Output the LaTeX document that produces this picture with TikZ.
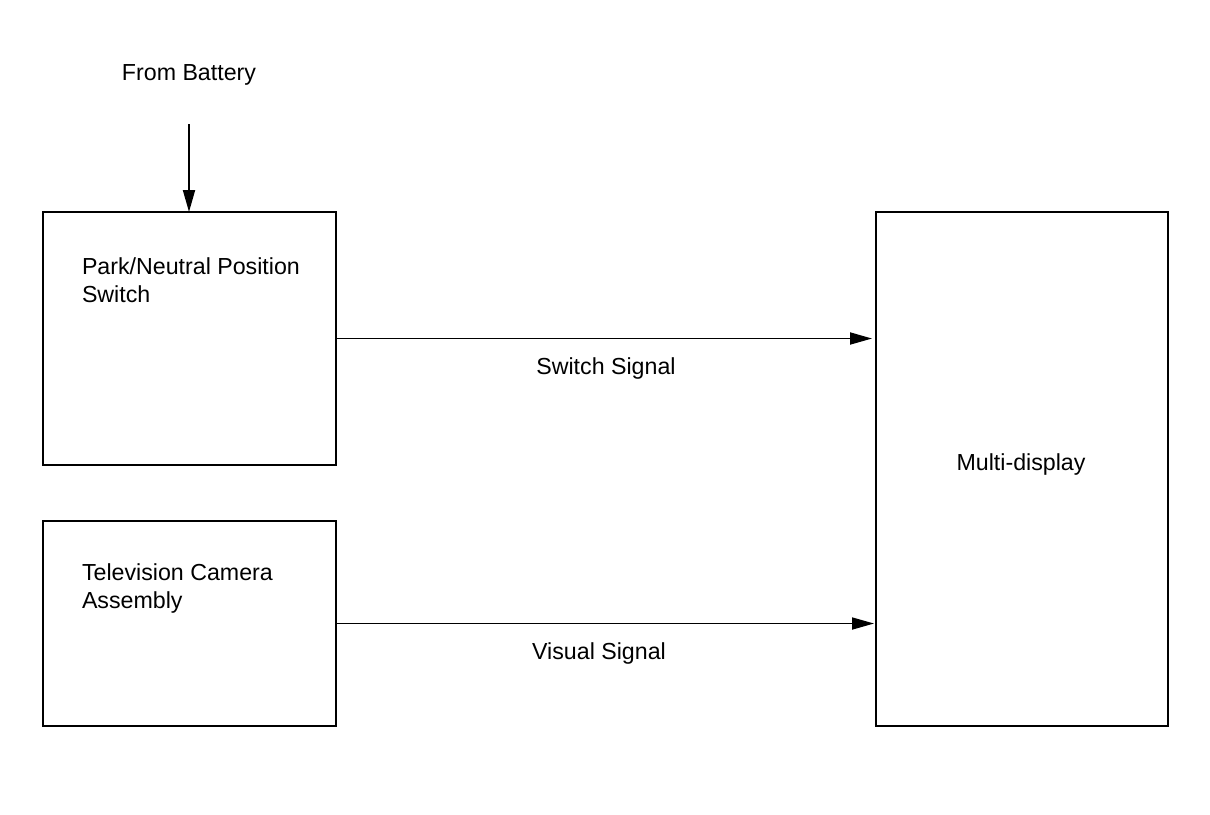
\documentclass[tikz,border=0pt]{standalone}
\usepackage{fontspec}
\setmainfont{Liberation Sans}
\usetikzlibrary{arrows.meta}

\begin{document}
\begin{tikzpicture}[
  x=0.5pt, y=-0.5pt,
  every node/.style={
    font=\fontsize{11.6}{14}\selectfont,
    inner sep=0pt, outer sep=0pt,
  },
  box/.style={
    draw, line width=1pt, anchor=north west,
  },
  boxtext/.style={
    anchor=north west, align=left,
  },
  sig/.style={
    line width=0.9pt, -{Triangle[length=11pt, width=6pt]},
  },
]

  \useasboundingbox (0,0) rectangle (1210,814);

  % blocks
  \node [box, minimum width=146.5pt, minimum height=126.5pt] (pns) at (43,212) {};
  \node [box, minimum width=146.5pt, minimum height=102.5pt] (tca) at (43,521) {};
  \node [box, minimum width=146pt, minimum height=257pt] (md) at (876,212) {};

  \node [boxtext] (pnsText) at (82,258) {Park/Neutral Position\\Switch};
  \node [boxtext] (tcaText) at (82,564) {Television Camera\\Assembly};
  \node (mdText) at (1021,464) {Multi-display};

  % supply
  \node (bat) at (189,75) {From Battery};
  \coordinate (batIn) at (189,124);
  \draw [sig] (batIn) -- (batIn |- pns.north);

  % signals
  \draw [sig, shorten >=2pt] (pns.east) -- (pns.east -| md.west);
  \node (swSig) at (606,368) {Switch Signal};

  \draw [sig, shorten >=1pt] (tca.east) -- (tca.east -| md.west);
  \node (visSig) at (599,653) {Visual Signal};

\end{tikzpicture}
\end{document}
